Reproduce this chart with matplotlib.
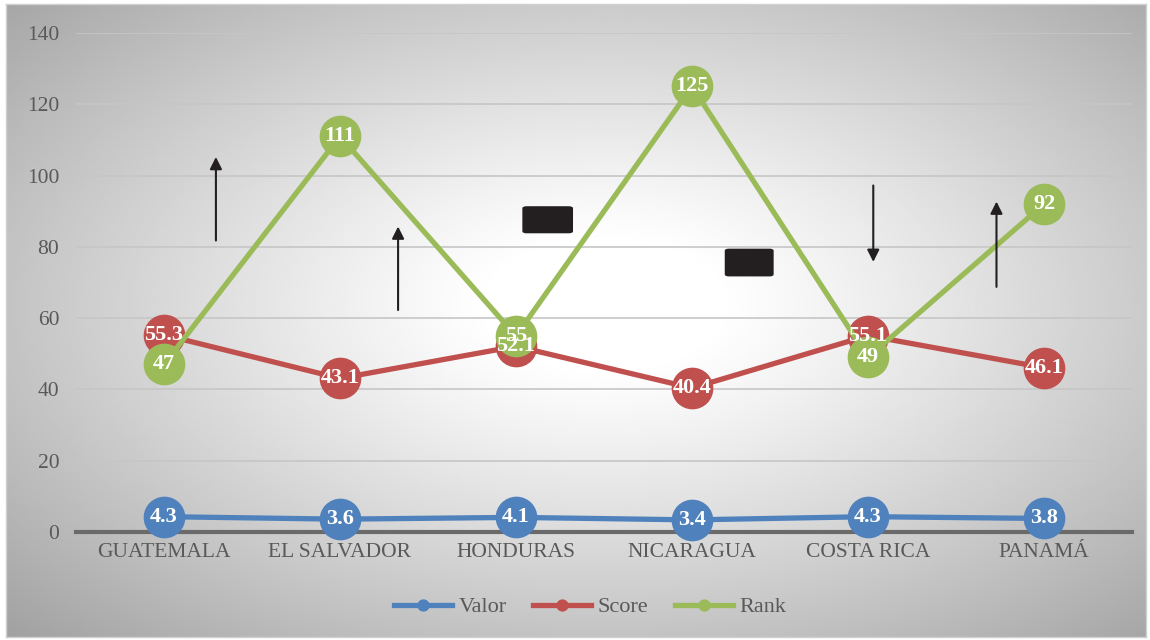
import numpy as np
import matplotlib.pyplot as plt
from matplotlib.patches import FancyBboxPatch

# Dados
paises = ["GUATEMALA", "EL SALVADOR", "HONDURAS", "NICARAGUA", "COSTA RICA", "PANAMÁ"]
valor = [4.3, 3.6, 4.1, 3.4, 4.3, 3.8]
score = [55.3, 43.1, 52.1, 40.4, 55.1, 46.1]
rank = [47, 111, 55, 125, 49, 92]

plt.rcParams["font.family"] = ["Liberation Serif", "DejaVu Serif"]

fig = plt.figure(figsize=(11.5, 6.4), dpi=100)

# fundo com gradiente radial
bg = fig.add_axes([6 / 1150, 3 / 640, 1140 / 1150, 633 / 640])
gx, gy = np.meshgrid(np.linspace(-1, 1, 400), np.linspace(-1, 1, 240))
r = np.sqrt((gx - 0.05) ** 2 + (gy + 0.05) ** 2)
shade = np.clip(1.0 - 0.28 * np.clip(r - 0.2, 0, None) ** 1.1, 0, 1)
bg.imshow(shade, cmap="gray", vmin=0, vmax=1, aspect="auto", extent=[0, 1, 0, 1])
bg.set_xticks([])
bg.set_yticks([])
for s in bg.spines.values():
    s.set_color("#d0d0d0")
    s.set_linewidth(1)

ax = fig.add_axes([76 / 1150, 1 - 532 / 640, 1056 / 1150, 499 / 640])
ax.patch.set_alpha(0)
x = np.arange(len(paises))

ax.set_xlim(-0.5, len(paises) - 0.5)
ax.set_ylim(0, 140)
ax.set_yticks(range(0, 141, 20))
ax.grid(axis="y", color="#c6c6c6", linewidth=1.2)
ax.set_axisbelow(True)
for s in ["top", "right", "left"]:
    ax.spines[s].set_visible(False)
ax.spines["bottom"].set_color("#6a6a6a")
ax.spines["bottom"].set_linewidth(3)
ax.tick_params(length=0, labelsize=15.5, labelcolor="#595959", pad=8)
ax.tick_params(axis="y", pad=12)
ax.set_xticks(x)
ax.set_xticklabels(paises)

series = [(valor, "#4F81BD", "Valor"), (score, "#C0504D", "Score"), (rank, "#9BBB59", "Rank")]
for vals, cor, nome in series:
    ax.plot(x, vals, color=cor, linewidth=3.8, marker="o", markersize=29,
            label=nome, clip_on=False, zorder=3)

for vals, cor, nome in series:
    for xi, v in zip(x, vals):
        ax.text(xi, v, f"{v:g}", ha="center", va="center", color="white",
                fontsize=16, fontweight="bold", zorder=5)

# anotações: setas e retângulos
setas = [(0.295, 81, 106), (1.33, 61.5, 86.5), (4.03, 98, 75), (4.73, 68, 93.5)]
for xs, y0, y1 in setas:
    ax.annotate("", xy=(xs, y1), xytext=(xs, y0),
                arrowprops=dict(arrowstyle="-|>", color="#231f20", lw=1.5,
                                mutation_scale=18), zorder=4)

retangulos = [(2.04, 84.0, 0.28, 7.2), (3.19, 71.9, 0.27, 7.4)]
for rx, ry, rw, rh in retangulos:
    ax.add_patch(FancyBboxPatch((rx, ry), rw, rh, boxstyle="round,pad=0,rounding_size=0.02",
                                facecolor="#231f20", edgecolor="#231f20", zorder=4,
                                mutation_aspect=20))

# legenda
leg = fig.legend(loc="center", bbox_to_anchor=(590 / 1150, 1 - 607 / 640), ncol=3,
                 frameon=False, fontsize=16, markerscale=0.27, handlelength=2.6,
                 columnspacing=1.2, handletextpad=0.3)
for t in leg.get_texts():
    t.set_color("#595959")

fig.savefig("out.png", dpi=100)
